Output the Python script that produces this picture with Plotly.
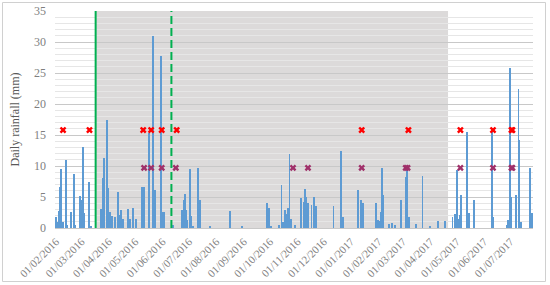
import plotly.graph_objects as go

# Daily rainfall (mm)
rain_dates = [
    "2016-02-01", "2016-02-02", "2016-02-04", "2016-02-06", "2016-02-07", "2016-02-09",
    "2016-02-12", "2016-02-13", "2016-02-18", "2016-02-21", "2016-02-23", "2016-02-28",
    "2016-02-29", "2016-03-03", "2016-03-04", "2016-03-09", "2016-03-12",
    "2016-03-23", "2016-03-25", "2016-03-27", "2016-03-30", "2016-03-31", "2016-04-02",
    "2016-04-05", "2016-04-08", "2016-04-11", "2016-04-13", "2016-04-15", "2016-04-17",
    "2016-04-23", "2016-04-25", "2016-04-28", "2016-05-02", "2016-05-09", "2016-05-11",
    "2016-05-17", "2016-05-21", "2016-05-23", "2016-05-30", "2016-06-01", "2016-06-03",
    "2016-06-13", "2016-06-23", "2016-06-25", "2016-06-26", "2016-06-28", "2016-06-29",
    "2016-07-02", "2016-07-03", "2016-07-05", "2016-07-11", "2016-07-13", "2016-07-25",
    "2016-08-17", "2016-08-30", "2016-09-28", "2016-09-30", "2016-10-02", "2016-10-11",
    "2016-10-14", "2016-10-16", "2016-10-18", "2016-10-20", "2016-10-21", "2016-10-23",
    "2016-10-25", "2016-10-29", "2016-11-05", "2016-11-08", "2016-11-10", "2016-11-11",
    "2016-11-13", "2016-11-17", "2016-11-20", "2016-11-22", "2016-12-12", "2016-12-21",
    "2016-12-23", "2017-01-09", "2017-01-12", "2017-01-14", "2017-01-29", "2017-01-31",
    "2017-02-02", "2017-02-04", "2017-02-05", "2017-02-06", "2017-02-13", "2017-02-16",
    "2017-02-20", "2017-02-27", "2017-03-04", "2017-03-05", "2017-03-06", "2017-03-08",
    "2017-03-16", "2017-03-23", "2017-03-31", "2017-04-10", "2017-04-18", "2017-04-26",
    "2017-04-29", "2017-05-01", "2017-05-03", "2017-05-04", "2017-05-06", "2017-05-13",
    "2017-05-15", "2017-05-20", "2017-06-10", "2017-06-11", "2017-06-27", "2017-06-28",
    "2017-06-30", "2017-07-02", "2017-07-07", "2017-07-10", "2017-07-11", "2017-07-13",
    "2017-07-23", "2017-07-25",
]
rain_mm = [
    1.8, 1.0, 2.7, 6.6, 9.5, 1.0,
    11.0, 0.5, 2.6, 8.7, 0.5, 5.2,
    4.5, 13.0, 2.4, 7.4, 0.3,
    3.1, 8.1, 11.3, 17.4, 6.5, 2.6,
    2.0, 1.8, 5.8, 2.1, 2.9, 1.5,
    3.1, 1.5, 3.2, 1.5, 6.6, 6.6,
    15.3, 31.0, 6.1, 27.7, 2.6, 2.6,
    0.5, 2.9, 4.5, 5.5, 2.9, 1.3,
    9.5, 2.0, 0.3, 9.6, 4.5, 0.3,
    2.7, 0.3, 4.0, 3.2, 0.3, 0.5,
    6.9, 1.0, 2.9, 2.2, 3.3, 12.0,
    1.5, 0.5, 4.9, 4.2, 6.3, 5.0,
    4.0, 3.7, 5.0, 3.5, 3.5, 12.5,
    1.8, 6.1, 4.5, 4.0, 4.1, 1.3,
    1.2, 2.6, 9.6, 5.3, 0.6, 0.8,
    0.5, 4.5, 8.2, 9.4, 4.8, 1.8,
    0.7, 8.4, 0.3, 1.1, 1.1, 1.8,
    2.3, 9.4, 1.4, 2.1, 5.4, 15.5,
    2.4, 4.5, 15.5, 1.7, 0.5, 1.3,
    25.8, 5.0, 5.3, 22.5, 14.2, 1.0,
    9.6, 2.4,
]

# Event markers
red_dates = ["2016-02-09", "2016-03-10", "2016-05-10", "2016-05-19", "2016-05-31",
             "2016-06-17", "2017-01-13", "2017-03-07", "2017-05-05", "2017-06-11",
             "2017-07-02", "2017-07-03", "2017-07-31"]
red_mm = [15.8, 15.8, 15.8, 15.8, 15.8, 15.8, 15.8, 15.8, 15.8, 15.8, 15.8, 15.8, 15.8]

purple_dates = ["2016-05-11", "2016-05-19", "2016-05-31", "2016-06-16", "2016-10-27",
                "2016-11-13", "2017-01-13", "2017-03-04", "2017-03-06", "2017-05-05",
                "2017-06-11", "2017-07-02", "2017-07-03", "2017-07-29", "2017-07-31"]
purple_mm = [9.7, 9.7, 9.7, 9.7, 9.7, 9.7, 9.7, 9.7, 9.7, 9.7, 9.7, 9.7, 9.7, 9.7, 9.7]

solid_line_date = "2016-03-17"
dashed_line_date = "2016-06-11"
shade_start = "2016-03-17"
shade_end = "2017-04-21"

serif = "Liberation Serif, Times New Roman, serif"

fig = go.Figure()
fig.add_trace(go.Bar(
    x=rain_dates, y=rain_mm,
    marker=dict(color="#5E9BD3", line_width=0),
    width=86400000 * 1.05,
))
fig.add_trace(go.Scatter(
    x=red_dates, y=red_mm, mode="markers",
    marker=dict(symbol="x", size=6, color="#FF0000", line_width=0),
    cliponaxis=False,
))
fig.add_trace(go.Scatter(
    x=purple_dates, y=purple_mm, mode="markers",
    marker=dict(symbol="x", size=6, color="#A0306A", line_width=0),
    cliponaxis=False,
))

shapes = [
    dict(type="rect", xref="x", yref="paper", x0=shade_start, x1=shade_end, y0=0, y1=1,
         fillcolor="#DCDADA", line_width=0, layer="below"),
    dict(type="line", xref="x", yref="paper", x0=solid_line_date, x1=solid_line_date, y0=0, y1=1,
         line=dict(color="#00B050", width=2), layer="above"),
    dict(type="line", xref="x", yref="paper", x0=dashed_line_date, x1=dashed_line_date, y0=0, y1=1,
         line=dict(color="#00B050", width=2, dash="8px,4px"), layer="above"),
    dict(type="rect", xref="paper", yref="paper", x0=-0.1098, x1=1.0262, y0=-0.2465, y1=1.0392,
         line=dict(color="#D0D0D0", width=1), fillcolor="rgba(0,0,0,0)", layer="below"),
]

fig.update_layout(
    width=550, height=285,
    margin=dict(l=55, r=17, t=11, b=57, autoexpand=False),
    paper_bgcolor="white", plot_bgcolor="white",
    showlegend=False, bargap=0,
    shapes=shapes,
    font=dict(family=serif, color="#7F7F7F"),
    annotations=[dict(
        text="Daily rainfall (mm)", textangle=-90, xref="paper", yref="paper",
        x=(14 - 55) / 478, y=0.5, xanchor="center", yanchor="middle", showarrow=False,
        font=dict(family=serif, size=12, color="#595959"),
    )],
)
fig.update_xaxes(
    range=["2016-01-30 21:00", "2017-07-26 10:00"],
    tick0="2016-02-01", dtick="M1", tickformat="%d/%m/%Y", tickangle=-45,
    showgrid=False, showline=True, linecolor="#C8C8C8", linewidth=1,
    ticks="", tickfont=dict(family=serif, size=11, color="#7F7F7F"),
    ticklabelstandoff=2, automargin=False,
)
fig.update_yaxes(
    range=[0, 35], dtick=5, tick0=0,
    showgrid=True, gridcolor="#C8C8C8", gridwidth=1,
    minor=dict(dtick=1, showgrid=True, gridcolor="#E6E6E6", gridwidth=1),
    zeroline=False, showline=False, ticks="",
    tickfont=dict(family=serif, size=12, color="#7F7F7F"),
    ticklabelstandoff=8, automargin=False,
)

fig.write_html("out.html")
